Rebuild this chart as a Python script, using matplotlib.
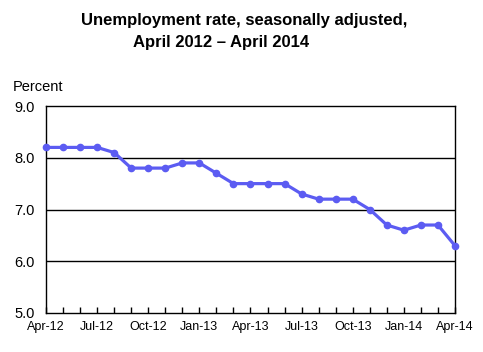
import matplotlib
matplotlib.use("Agg")
import matplotlib.pyplot as plt

plt.rcParams['font.family'] = ['Liberation Sans', 'DejaVu Sans']

# monthly values, Apr 2012 .. Apr 2014
rate = [8.2, 8.2, 8.2, 8.2, 8.1, 7.8, 7.8, 7.8, 7.9, 7.9, 7.7, 7.5, 7.5,
        7.5, 7.5, 7.3, 7.2, 7.2, 7.2, 7.0, 6.7, 6.6, 6.7, 6.7, 6.3]
tick_pos = [0, 3, 6, 9, 12, 15, 18, 21, 24]
tick_labels = ["Apr-12", "Jul-12", "Oct-12", "Jan-13", "Apr-13",
               "Jul-13", "Oct-13", "Jan-14", "Apr-14"]
yticks = [5.0, 6.0, 7.0, 8.0, 9.0]

fig = plt.figure(figsize=(4.83, 3.52), dpi=100)
ax = fig.add_axes([46/483, 1 - 313/352, (455-46)/483, (313-106)/352])

x = list(range(len(rate)))
ax.plot(x, rate, color="#5c5cf2", lw=2.3, marker="o", ms=4.5, zorder=3,
        clip_on=False)

ax.set_xlim(0, 24)
ax.set_ylim(5.0, 9.0)
ax.set_yticks(yticks)
ax.set_yticklabels([f"{v:.1f}" for v in yticks], fontsize=10.5)
ax.set_xticks(x, minor=True)
ax.set_xticks(tick_pos)
ax.set_xticklabels(tick_labels, fontsize=9)
ax.tick_params(axis="x", which="both", direction="in", length=4, width=1, pad=6)
ax.tick_params(axis="y", length=0, pad=8)
for y in [6.0, 7.0, 8.0]:
    ax.axhline(y, color="black", lw=1, zorder=1)
for s in ax.spines.values():
    s.set_linewidth(1)

fig.text(244/483, 1 - 20/352, "Unemployment rate, seasonally adjusted,",
         ha="center", va="center", fontsize=12, fontweight="bold")
fig.text(221/483, 1 - 42/352, "April 2012 \u2013 April 2014",
         ha="center", va="center", fontsize=12, fontweight="bold")
fig.text(13/483, 1 - 87/352, "Percent", ha="left", va="center", fontsize=10.5)

fig.savefig("out.png", dpi=100)
